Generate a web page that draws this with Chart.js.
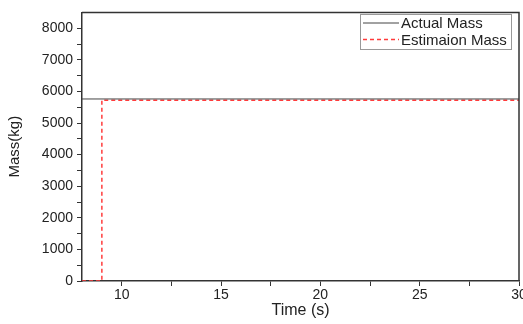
<!DOCTYPE html>
<html>
<head>
<meta charset="utf-8">
<script src="https://cdn.jsdelivr.net/npm/chart.js@4/dist/chart.umd.min.js"></script>
<style>
  html, body { margin: 0; padding: 0; background: #fff; }
  #wrap { width: 523px; height: 324px; }
</style>
</head>
<body>
<div id="wrap"><canvas id="massChart"></canvas></div>
<script>
// values
const seriesNames = ['Actual Mass', 'Estimaion Mass'];
const actualTime = [8, 30];
const actualMass = [5760, 5760];
const estTime = [8, 9, 9, 30];
const estMass = [0, 0, 5720, 5720];
const xTicks = [10, 12.5, 15, 17.5, 20, 22.5, 25, 27.5, 30];
const yTicks = [0, 500, 1000, 1500, 2000, 2500, 3000, 3500, 4000, 4500, 5000, 5500, 6000, 6500, 7000, 7500, 8000];

const toPoints = (xs, ys) => xs.map((x, i) => ({ x: x, y: ys[i] }));
const FONT = '"Liberation Sans", Arial, sans-serif';

// frame around the plot + legend box inside the plot (top right)
const framePlugin = {
    id: 'frame',
    afterDraw(chart) {
        const { ctx, chartArea: a } = chart;
        ctx.save();
        ctx.strokeStyle = '#333';
        ctx.lineWidth = 1.5;
        ctx.beginPath();
        ctx.moveTo(a.left, a.top);
        ctx.lineTo(a.right, a.top);
        ctx.lineTo(a.right, a.bottom);
        ctx.stroke();

        // legend
        const bx = 360, by = 14, bw = 151, bh = 35;
        ctx.strokeStyle = '#999';
        ctx.lineWidth = 1;
        ctx.fillStyle = '#fff';
        ctx.fillRect(bx, by, bw, bh);
        ctx.strokeRect(bx + 0.5, by + 0.5, bw, bh);
        ctx.font = '15px ' + FONT;
        ctx.textBaseline = 'middle';
        chart.data.datasets.forEach((ds, i) => {
            const yy = by + 9 + i * 16.5;
            ctx.strokeStyle = ds.borderColor;
            ctx.lineWidth = ds.borderWidth;
            ctx.setLineDash(ds.borderDash || []);
            ctx.beginPath();
            ctx.moveTo(bx + 3, yy);
            ctx.lineTo(bx + 39, yy);
            ctx.stroke();
            ctx.setLineDash([]);
            ctx.fillStyle = '#222';
            ctx.fillText(ds.label, bx + 41, yy + 1);
        });
        ctx.restore();
    }
};

const ctx = document.getElementById('massChart').getContext('2d');
const massChart = new Chart(ctx, {
    type: 'scatter',
    data: {
        datasets: [
            {
                label: seriesNames[0],
                data: toPoints(actualTime, actualMass),
                showLine: true,
                borderColor: '#444',
                borderWidth: 1,
                pointRadius: 0
            },
            {
                label: seriesNames[1],
                data: toPoints(estTime, estMass),
                showLine: true,
                borderColor: '#ff3b3b',
                borderWidth: 1.5,
                borderDash: [4, 3],
                pointRadius: 0
            }
        ]
    },
    options: {
        responsive: true,
        maintainAspectRatio: false,
        animation: false,
        layout: { padding: { top: 6, right: 4, left: 0, bottom: 0 } },
        plugins: {
            legend: { display: false },
            tooltip: { enabled: false }
        },
        scales: {
            x: {
                type: 'linear',
                min: 8,
                max: 30,
                afterBuildTicks: (scale) => { scale.ticks = xTicks.map(v => ({ value: v })); },
                afterFit: (scale) => { scale.height = 43; scale.paddingRight = 0; },
                grid: { drawOnChartArea: false, drawTicks: true, tickLength: 5, tickColor: '#333' },
                border: { color: '#333', width: 1.5 },
                ticks: {
                    color: '#222',
                    font: { family: FONT, size: 14 },
                    padding: 1,
                    maxRotation: 0,
                    autoSkip: false,
                    callback: (v) => (v % 5 === 0 ? v : '')
                },
                title: {
                    display: true,
                    text: 'Time (s)',
                    color: '#222',
                    font: { family: FONT, size: 16 },
                    padding: { top: 6 }
                }
            },
            y: {
                min: 0,
                max: 8500,
                afterBuildTicks: (scale) => { scale.ticks = yTicks.map(v => ({ value: v })); },
                afterFit: (scale) => { scale.width = 82; },
                grid: { drawOnChartArea: false, drawTicks: true, tickLength: 5, tickColor: '#333' },
                border: { color: '#333', width: 1.5 },
                ticks: {
                    color: '#222',
                    font: { family: FONT, size: 14 },
                    padding: 4,
                    autoSkip: false,
                    callback: (v) => (v % 1000 === 0 ? v : '')
                },
                title: {
                    display: true,
                    text: 'Mass(kg)',
                    color: '#222',
                    font: { family: FONT, size: 15 },
                    padding: { top: 6, bottom: 2 }
                }
            }
        }
    },
    plugins: [framePlugin]
});
</script>
</body>
</html>
